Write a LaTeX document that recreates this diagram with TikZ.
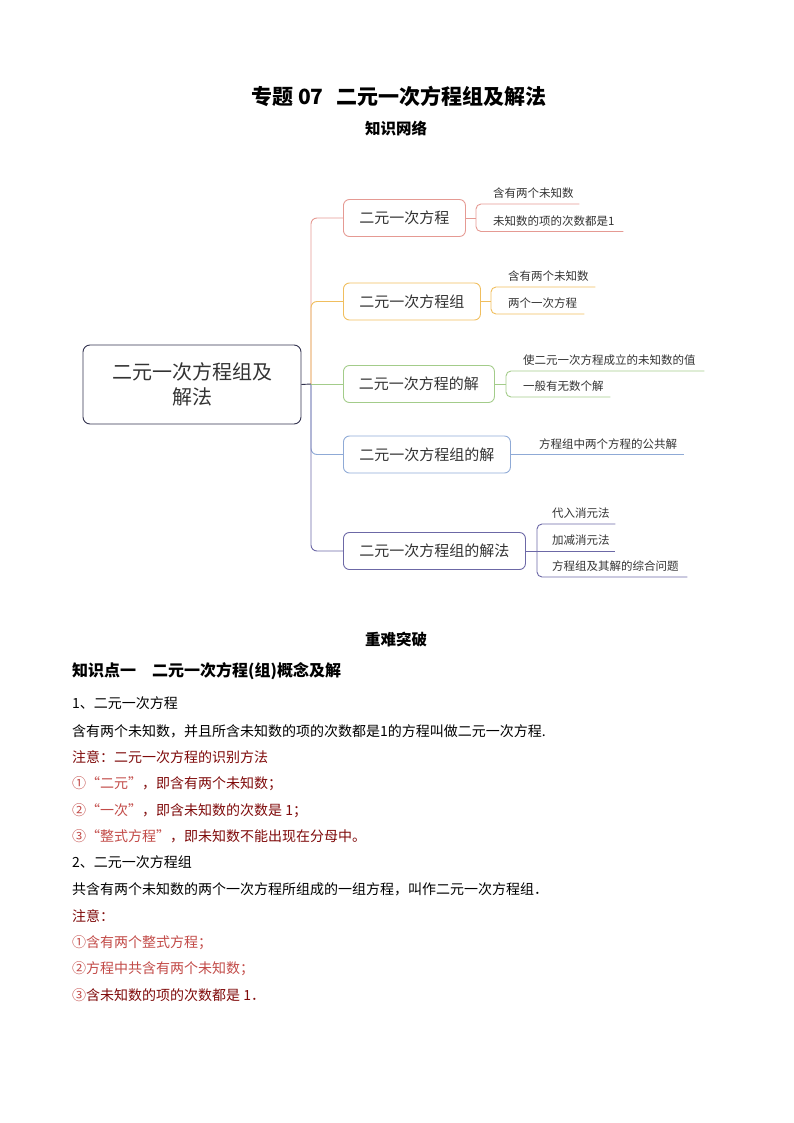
\documentclass[tikz,border=0pt]{standalone}
\usepackage{fontspec}
\setmainfont{Noto Sans CJK SC}
\usepackage{xcolor}
\usetikzlibrary{positioning}
\definecolor{Map_Red}{HTML}{E59A93}
\definecolor{Map_Orange}{HTML}{F0BE5E}
\definecolor{Map_Green}{HTML}{A3CC8A}
\definecolor{Map_Blue}{HTML}{8FAAD6}
\definecolor{Map_Purple}{HTML}{6C68A6}
\definecolor{Map_Root}{HTML}{33334F}
\definecolor{Map_Text}{HTML}{333333}
\definecolor{Note_Dark}{HTML}{7F0A0A}
\definecolor{Note_Light}{HTML}{C24B48}

\begin{document}
\begin{tikzpicture}[
    x=1pt, y=-1pt,
    rootbox/.style={draw=Map_Root, line width=0.9pt, rounded corners=7pt, minimum width=218pt, minimum height=79pt, align=center, text=Map_Text, font=\fontsize{20}{25}\selectfont},
    topic/.style={draw=#1, line width=0.9pt, rounded corners=6pt, anchor=west, minimum height=37pt, text=Map_Text, font=\fontsize{15}{18}\selectfont},
    sub/.style 2 args={anchor=south west, inner xsep=0pt, inner ysep=6pt, text depth=0pt, text width=#1, text=Map_Text, font=\fontsize{11.5}{14}\selectfont, execute at begin node={\hspace*{#2}}},
    link/.style={draw=#1, line width=0.9pt},
    bodytext/.style={anchor=west, inner sep=0pt, text height=12pt, text depth=2pt, font=\fontsize{14}{16}\selectfont},
    heading/.style={inner sep=0pt, font=\bfseries\fontsize{15.5}{18}\selectfont}
]
\useasboundingbox (0,0) rectangle (794,1123);

% titles
\node[anchor=west, inner sep=0pt, font=\bfseries\fontsize{21}{24}\selectfont] (title) at (251,96) {专题 07\hspace{0.6em}二元一次方程组及解法};
\node[heading] (netTitle) at (396,128) {知识网络};

% mind map
\node[rootbox] (root) at (192,384.5) {二元一次方程组及\\解法};
\coordinate (trunk) at (311,384);

\node[topic=Map_Red, minimum width=122pt] (eq) at (343,218) {二元一次方程};
\node[topic=Map_Orange, minimum width=137pt] (sys) at (343,301.5) {二元一次方程组};
\node[topic=Map_Green, minimum width=151pt] (eqSol) at (343,384) {二元一次方程的解};
\node[topic=Map_Blue, minimum width=167pt] (sysSol) at (343,454.5) {二元一次方程组的解};
\node[topic=Map_Purple, minimum width=182pt] (method) at (343,551) {二元一次方程组的解法};

\draw[link=Map_Red, rounded corners=6pt] (trunk) |- (eq.west);
\draw[link=Map_Orange, rounded corners=6pt] (trunk) |- (sys.west);
\draw[link=Map_Blue, rounded corners=6pt] (trunk) |- (sysSol.west);
\draw[link=Map_Purple, rounded corners=6pt] (trunk) |- (method.west);
\draw[link=Map_Green] (trunk) -- (eqSol.west);
\draw[link=Map_Root] (root.east) -- (trunk);

% sub topics
\node[sub={103pt}{17pt}] (eqA) at (476,204) {含有两个未知数};
\node[sub={147pt}{17pt}] (eqB) at (476,231.5) {未知数的项的次数都是1};
\draw[link=Map_Red] (eq.east) -- (eq.east -| eqA.south west);
\draw[link=Map_Red, rounded corners=5pt] (eqA.south east) -- (eqA.south west) -- (eqB.south west) -- (eqB.south east);

\node[sub={104pt}{17pt}] (sysA) at (491,287) {含有两个未知数};
\node[sub={93pt}{17pt}] (sysB) at (491,314) {两个一次方程};
\draw[link=Map_Orange] (sys.east) -- (sys.east -| sysA.south west);
\draw[link=Map_Orange, rounded corners=5pt] (sysA.south east) -- (sysA.south west) -- (sysB.south west) -- (sysB.south east);

\node[sub={198pt}{17pt}] (eqSolA) at (506,371) {使二元一次方程成立的未知数的值};
\node[sub={104pt}{17pt}] (eqSolB) at (506,397) {一般有无数个解};
\draw[link=Map_Green] (eqSol.east) -- (eqSol.east -| eqSolA.south west);
\draw[link=Map_Green, rounded corners=5pt] (eqSolA.south east) -- (eqSolA.south west) -- (eqSolB.south west) -- (eqSolB.south east);

\node[sub={173pt}{28pt}] (sysSolA) at (sysSol.east) {方程组中两个方程的公共解};
\draw[link=Map_Blue] (sysSol.east) -- (sysSolA.south east);

\node[sub={78pt}{15pt}] (methA) at (537,524) {代入消元法};
\node[sub={78pt}{15pt}] (methB) at (537,551) {加减消元法};
\node[sub={150pt}{15pt}] (methC) at (537,577) {方程组及其解的综合问题};
\draw[link=Map_Purple] (method.east) -- (methB.south east);
\draw[link=Map_Purple, rounded corners=5pt] (methA.south east) -- (methA.south west) -- (methC.south west) -- (methC.south east);

% text part
\node[heading] (keyTitle) at (396,640) {重难突破};
\node[anchor=west, inner sep=0pt, font=\bfseries\fontsize{16}{18}\selectfont] (point1) at (72,671) {知识点一　二元一次方程(组)概念及解};

\node[bodytext] (sec1) at (72,703) {1、二元一次方程};
\node[bodytext] (def1) at (72,731) {含有两个未知数，并且所含未知数的项的次数都是1的方程叫做二元一次方程.};
\node[bodytext, text=Note_Dark] (note1) at (72,757) {注意：二元一次方程的识别方法};
\node[bodytext, text=Note_Dark] (note1a) at (72,783) {{\color{Note_Light}①“二元”}，即含有两个未知数；};
\node[bodytext, text=Note_Dark] (note1b) at (72,810) {{\color{Note_Light}②“一次”}，即含未知数的次数是 1；};
\node[bodytext, text=Note_Dark] (note1c) at (72,836) {{\color{Note_Light}③“整式方程”}，即未知数不能出现在分母中。};
\node[bodytext] (sec2) at (72,862) {2、二元一次方程组};
\node[bodytext] (def2) at (72,889) {共含有两个未知数的两个一次方程所组成的一组方程，叫作二元一次方程组．};
\node[bodytext, text=Note_Dark] (note2) at (72,916) {注意：};
\node[bodytext, text=Note_Light] (note2a) at (72,942) {①含有两个整式方程；};
\node[bodytext, text=Note_Light] (note2b) at (72,968) {②方程中共含有两个未知数；};
\node[bodytext, text=Note_Dark] (note2c) at (72,995) {{\color{Note_Light}③}含未知数的项的次数都是 1．};
\end{tikzpicture}
\end{document}
